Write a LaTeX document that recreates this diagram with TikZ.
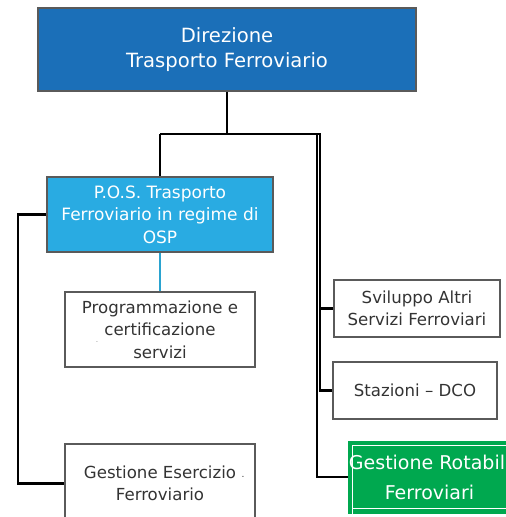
\documentclass[tikz,border=0pt]{standalone}
\usepackage{fontspec}
\setmainfont{DejaVu Sans}
\definecolor{dirblue}{HTML}{1B6FB8}
\definecolor{posblue}{HTML}{29ABE2}
\definecolor{linkblue}{HTML}{2AA3D0}
\definecolor{okgreen}{HTML}{00A84F}
\definecolor{txtgrey}{HTML}{333333}
\definecolor{edgegrey}{HTML}{5A5A5A}
\tikzset{
  unit/.style={draw=edgegrey, line width=1.1pt, inner sep=0pt, align=center,
    text=txtgrey, font=\fontsize{16.6}{22.5}\selectfont},
  headbox/.style={unit, fill=dirblue, text=white, font=\fontsize{19.6}{25}\selectfont},
  posbox/.style={unit, fill=posblue, text=white, font=\fontsize{17}{22.5}\selectfont},
  link/.style={line width=2.1pt, black},
}
\begin{document}
\begin{tikzpicture}[x=1pt, y=-1pt]
\useasboundingbox (0,0) rectangle (506,517);
\clip (0,0) rectangle (506,517);

% head office
\node[headbox, minimum width=378pt, minimum height=83pt] (dir) at (227,49.5)
  {Direzione\\Trasporto Ferroviario};

% public service unit and its children
\node[posbox, minimum width=226pt, minimum height=75pt] (pos) at (160,214.5)
  {P.O.S. Trasporto\\Ferroviario in regime di\\OSP};
\node[unit, minimum width=190pt, minimum height=75pt] (prog) at (160,329.5)
  {Programmazione e\\certificazione\\servizi};
\node[text=edgegrey, font=\fontsize{6}{6}\selectfont, inner sep=0pt] (progmark) at (97,342) {.};
\node[unit, minimum width=190pt, minimum height=79pt] (gest) at (160,483.5)
  {Gestione Esercizio\\Ferroviario};
\node[text=txtgrey, font=\fontsize{9}{9}\selectfont, inner sep=0pt] (gestmark) at (243,477) {.};

% units on the right branch
\node[unit, minimum width=166pt, minimum height=57pt] (svil) at (417,308.5)
  {Sviluppo Altri\\Servizi Ferroviari};
\node[unit, minimum width=164pt, minimum height=57pt] (staz) at (415,390.5)
  {Stazioni -- DCO};
\node[draw=okgreen, fill=okgreen, line width=1pt, minimum width=180pt, minimum height=72pt,
  inner sep=0pt] (rot) at (438,477) {};
\draw[white, line width=1.3pt] (352.5,520) |- (515,445.5);
\draw[white, line width=1.3pt] (352.5,508.5) -- (515,508.5);
\node[text=white, align=center, inner sep=0pt, font=\fontsize{19}{30}\selectfont] (rottext) at (427,477)
  {Gestione Rotabil\\\hspace*{5pt}Ferroviari};

% connectors
\coordinate (split) at (dir.south |- 0,134);
\coordinate (rbar) at (319,134);
\draw[link] (dir.south) -- (split);
\draw[link] (pos.north |- split) -- (rbar);
\draw[link] (pos.north |- split) -- (pos.north);
\draw[line width=1.6pt] (316.8,133) -- (316.8,477);
\draw[line width=1.6pt] (319.8,133) -- (319.8,391);
\draw[link] (rbar |- svil.west) -- (svil.west);
\draw[link] (rbar |- staz.west) -- (staz.west);
\draw[link] (316,477) -- (rot.west);
\draw[line width=2.2pt, linkblue] (pos.south) -- (prog.north);
\draw[link] (pos.west) -| (18,483.5) -- (gest.west);
\end{tikzpicture}
\end{document}
